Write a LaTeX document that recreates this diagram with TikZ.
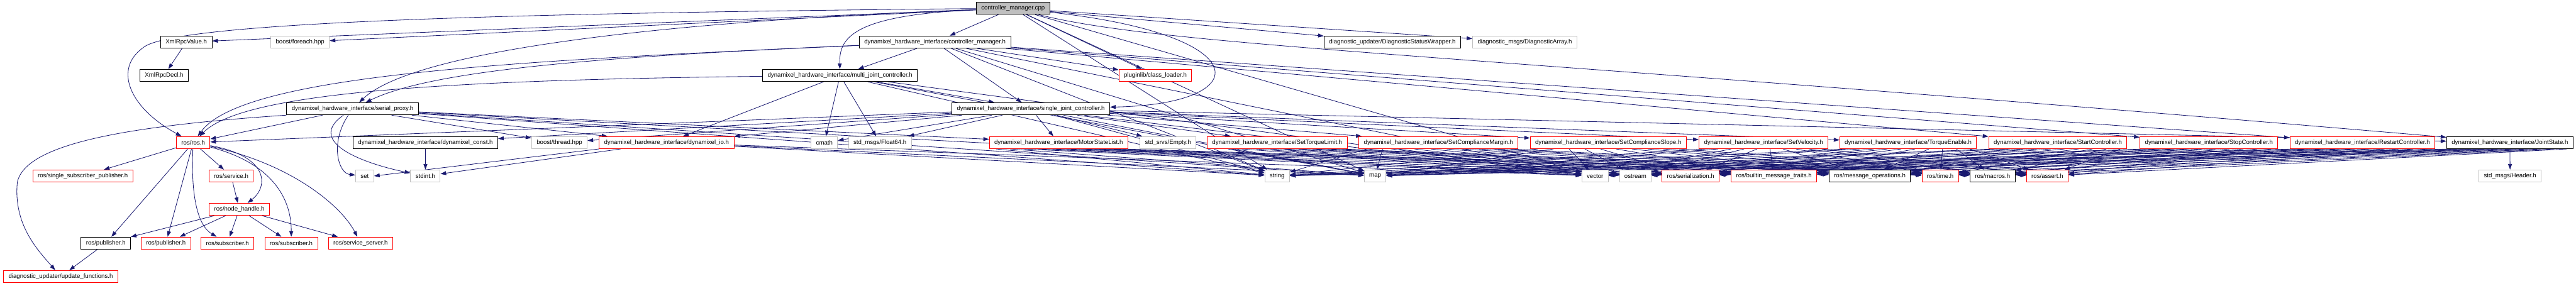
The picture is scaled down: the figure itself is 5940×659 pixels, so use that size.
\documentclass[tikz,border=0pt]{standalone}
\usepackage{fontspec}
\newfontfamily\hdrfont{Liberation Sans}
\usetikzlibrary{arrows.meta,backgrounds,calc}
\definecolor{edgeblue}{HTML}{191970}
\definecolor{lightgrey}{HTML}{BFBFBF}
\newcommand{\dhi}{dynamixel\_hardware\_interface/}
\begin{document}
\begin{tikzpicture}[x=1pt,y=-1pt,
  hdr/.style={draw=black,fill=white,line width=1.4pt,minimum height=28pt,inner xsep=11.5pt,inner ysep=0pt,font=\hdrfont\fontsize{14}{16}\selectfont},
  trunc/.style={draw=red},
  undoc/.style={draw=lightgrey},
  root/.style={fill=lightgrey},
  dep/.style={draw=edgeblue,line width=1.2pt,-{Triangle[length=13pt,width=9pt]}}]
\useasboundingbox (0,0) rectangle (5940,659);
% row 0
\node[hdr,root] (cpp) at (2336,19) {controller\_manager.cpp};
% row 1
\node[hdr] (xmlval) at (429.5,97) {XmlRpcValue.h};
\node[hdr,undoc] (foreach) at (692,97) {boost/foreach.hpp};
\node[hdr] (cmh) at (2156,97) {\dhi controller\_manager.h};
\node[hdr] (diagwrap) at (3210.5,97) {diagnostic\_updater/DiagnosticStatusWrapper.h};
\node[hdr,undoc] (diagarr) at (3516,97) {diagnostic\_msgs/DiagnosticArray.h};
% row 2
\node[hdr] (xmldecl) at (378.5,174) {XmlRpcDecl.h};
\node[hdr] (multi) at (1937,174) {\dhi multi\_joint\_controller.h};
\node[hdr,trunc] (loader) at (2664,174) {pluginlib/class\_loader.h};
% row 3
\node[hdr] (proxy) at (813,251) {\dhi serial\_proxy.h};
\node[hdr] (single) at (2377,251) {\dhi single\_joint\_controller.h};
% row 4
\node[hdr,trunc] (rosh) at (445.5,329) {ros/ros.h};
\node[hdr] (dconst) at (981,329) {\dhi dynamixel\_const.h};
\node[hdr,undoc] (thread) at (1290,329) {boost/thread.hpp};
\node[hdr,trunc] (dio) at (1537,329) {\dhi dynamixel\_io.h};
\node[hdr,undoc] (cmath) at (1901,329) {cmath};
\node[hdr,undoc] (float) at (2029,329) {std\_msgs/Float64.h};
\node[hdr,trunc] (motors) at (2441,329) {\dhi MotorStateList.h};
\node[hdr,undoc] (empty) at (2693.5,329) {std\_srvs/Empty.h};
\node[hdr,trunc] (settorque) at (2945,329) {\dhi SetTorqueLimit.h};
\node[hdr,trunc] (setmargin) at (3317,329) {\dhi SetComplianceMargin.h};
\node[hdr,trunc] (setslope) at (3708.5,329) {\dhi SetComplianceSlope.h};
\node[hdr,trunc] (setvel) at (4066.5,329) {\dhi SetVelocity.h};
\node[hdr,trunc] (torque) at (4400,329) {\dhi TorqueEnable.h};
\node[hdr,trunc] (start) at (4745,329) {\dhi StartController.h};
\node[hdr,trunc] (stop) at (5093.5,329) {\dhi StopController.h};
\node[hdr,trunc] (restart) at (5447.5,329) {\dhi RestartController.h};
\node[hdr] (joint) at (5787.5,329) {\dhi JointState.h};
% row 5
\node[hdr,trunc] (singsub) at (191,406) {ros/single\_subscriber\_publisher.h};
\node[hdr,trunc] (service) at (533,406) {ros/service.h};
\node[hdr,undoc] (set) at (841,406) {set};
\node[hdr,undoc] (stdint) at (981,406) {stdint.h};
\node[hdr,undoc] (string) at (2945,406) {string};
\node[hdr,undoc] (map) at (3171,406) {map};
\node[hdr,undoc] (vector) at (3678,406) {vector};
\node[hdr,undoc] (ostream) at (3771,406) {ostream};
\node[hdr,trunc] (serial) at (3898.5,406) {ros/serialization.h};
\node[hdr,trunc] (traits) at (4090.5,406) {ros/builtin\_message\_traits.h};
\node[hdr] (msgops) at (4311.5,406) {ros/message\_operations.h};
\node[hdr,trunc] (time) at (4474,406) {ros/time.h};
\node[hdr] (macros) at (4594.5,406) {ros/macros.h};
\node[hdr,trunc] (assert) at (4721,406) {ros/assert.h};
\node[hdr,undoc] (header) at (5788,406) {std\_msgs/Header.h};
% rows 6 to 8
\node[hdr,trunc] (nh) at (552,483) {ros/node\_handle.h};
\node[hdr] (pubA) at (244,561) {ros/publisher.h};
\node[hdr,trunc] (pubB) at (382.5,561) {ros/publisher.h};
\node[hdr,trunc] (subA) at (524.5,561) {ros/subscriber.h};
\node[hdr,trunc] (subB) at (671.5,561) {ros/subscriber.h};
\node[hdr,trunc] (srvserver) at (831.5,561) {ros/service\_server.h};
\node[hdr,trunc] (updfn) at (140,638) {diagnostic\_updater/update\_functions.h};

\begin{scope}[on background layer]
% controller_manager.cpp
\foreach \dst in {cmh,xmlval,foreach,loader,diagwrap,diagarr,string,map,vector}
  \draw[dep] (cpp) -- (\dst);
\draw[dep] (cpp) .. controls (1200,30) and (400,50) .. (330,110) .. controls (260,160) and (300,250) .. (rosh);
\draw[dep] (cpp) .. controls (1960,35) and (1935,90) .. (multi);
\draw[dep] (cpp) .. controls (2900,80) and (2900,240) .. (single);
\draw[dep] (cpp) .. controls (1500,50) and (950,120) .. (proxy);
\draw[dep] (cpp) .. controls (2700,110) and (3400,125) .. (joint);
% controller_manager.h
\foreach \dst in {multi,single,loader,start,stop,restart,string,map,vector}
  \draw[dep] (cmh) -- (\dst);
\draw[dep] (cmh) .. controls (1200,140) and (560,170) .. (rosh);
\draw[dep] (cmh) .. controls (1400,130) and (1000,160) .. (proxy);
% multi_joint_controller.h
\foreach \dst in {single,dio,cmath,float,string,map,vector}
  \draw[dep] (multi) -- (\dst);
\draw[dep] (multi) .. controls (1000,185) and (560,215) .. (rosh);
% single_joint_controller.h
\foreach \dst in {rosh,dconst,thread,dio,cmath,float,motors,empty,settorque,setmargin,setslope,setvel,torque,joint,string,map,vector}
  \draw[dep] (single) -- (\dst);
% serial_proxy.h
\foreach \dst in {rosh,thread,dio,motors,string,map,vector}
  \draw[dep] (proxy) -- (\dst);
\draw[dep] (proxy.south west) .. controls (300,290) and (60,330) .. (40,420) .. controls (30,520) and (90,580) .. (updfn);
\draw[dep] (proxy) .. controls (760,330) and (780,400) .. (set);
\draw[dep] (proxy) .. controls (700,330) and (850,380) .. (stdint);
% dynamixel_io.h and dynamixel_const.h
\draw[dep] (dio.south west) -- (set.east);
\foreach \dst in {stdint,string,map,vector}
  \draw[dep] (dio) -- (\dst);
\draw[dep] (dconst) -- (stdint);
% ros headers
\foreach \dst in {singsub,service,pubA,pubB}
  \draw[dep] (rosh) -- (\dst);
\draw[dep] (rosh) .. controls (620,360) and (620,430) .. (nh);
\draw[dep] (rosh) .. controls (440,450) and (455,520) .. (subA);
\draw[dep] (rosh) .. controls (640,380) and (672,470) .. (subB);
\draw[dep] (rosh) .. controls (680,380) and (790,480) .. (srvserver);
\draw[dep] (service) -- (nh);
\foreach \dst in {pubA,pubB,subA,subB,srvserver}
  \draw[dep] (nh) -- (\dst);
\draw[dep] (pubA) -- (updfn);
\draw[dep] (xmlval) -- (xmldecl);
\draw[dep] (joint) -- (header);
% generated messages and services, leaving from the bottom edge
\foreach \src in {motors,settorque,setmargin,setslope,setvel,torque,start,stop,restart,joint}
  \foreach \dst [count=\i] in {string,map,vector,ostream,serial,traits,msgops,time,macros,assert}
    \draw[dep] ($(\src.south west)!{0.05+0.1*(\i-1)}!(\src.south east)$) -- (\dst);
\end{scope}
\end{tikzpicture}
\end{document}
